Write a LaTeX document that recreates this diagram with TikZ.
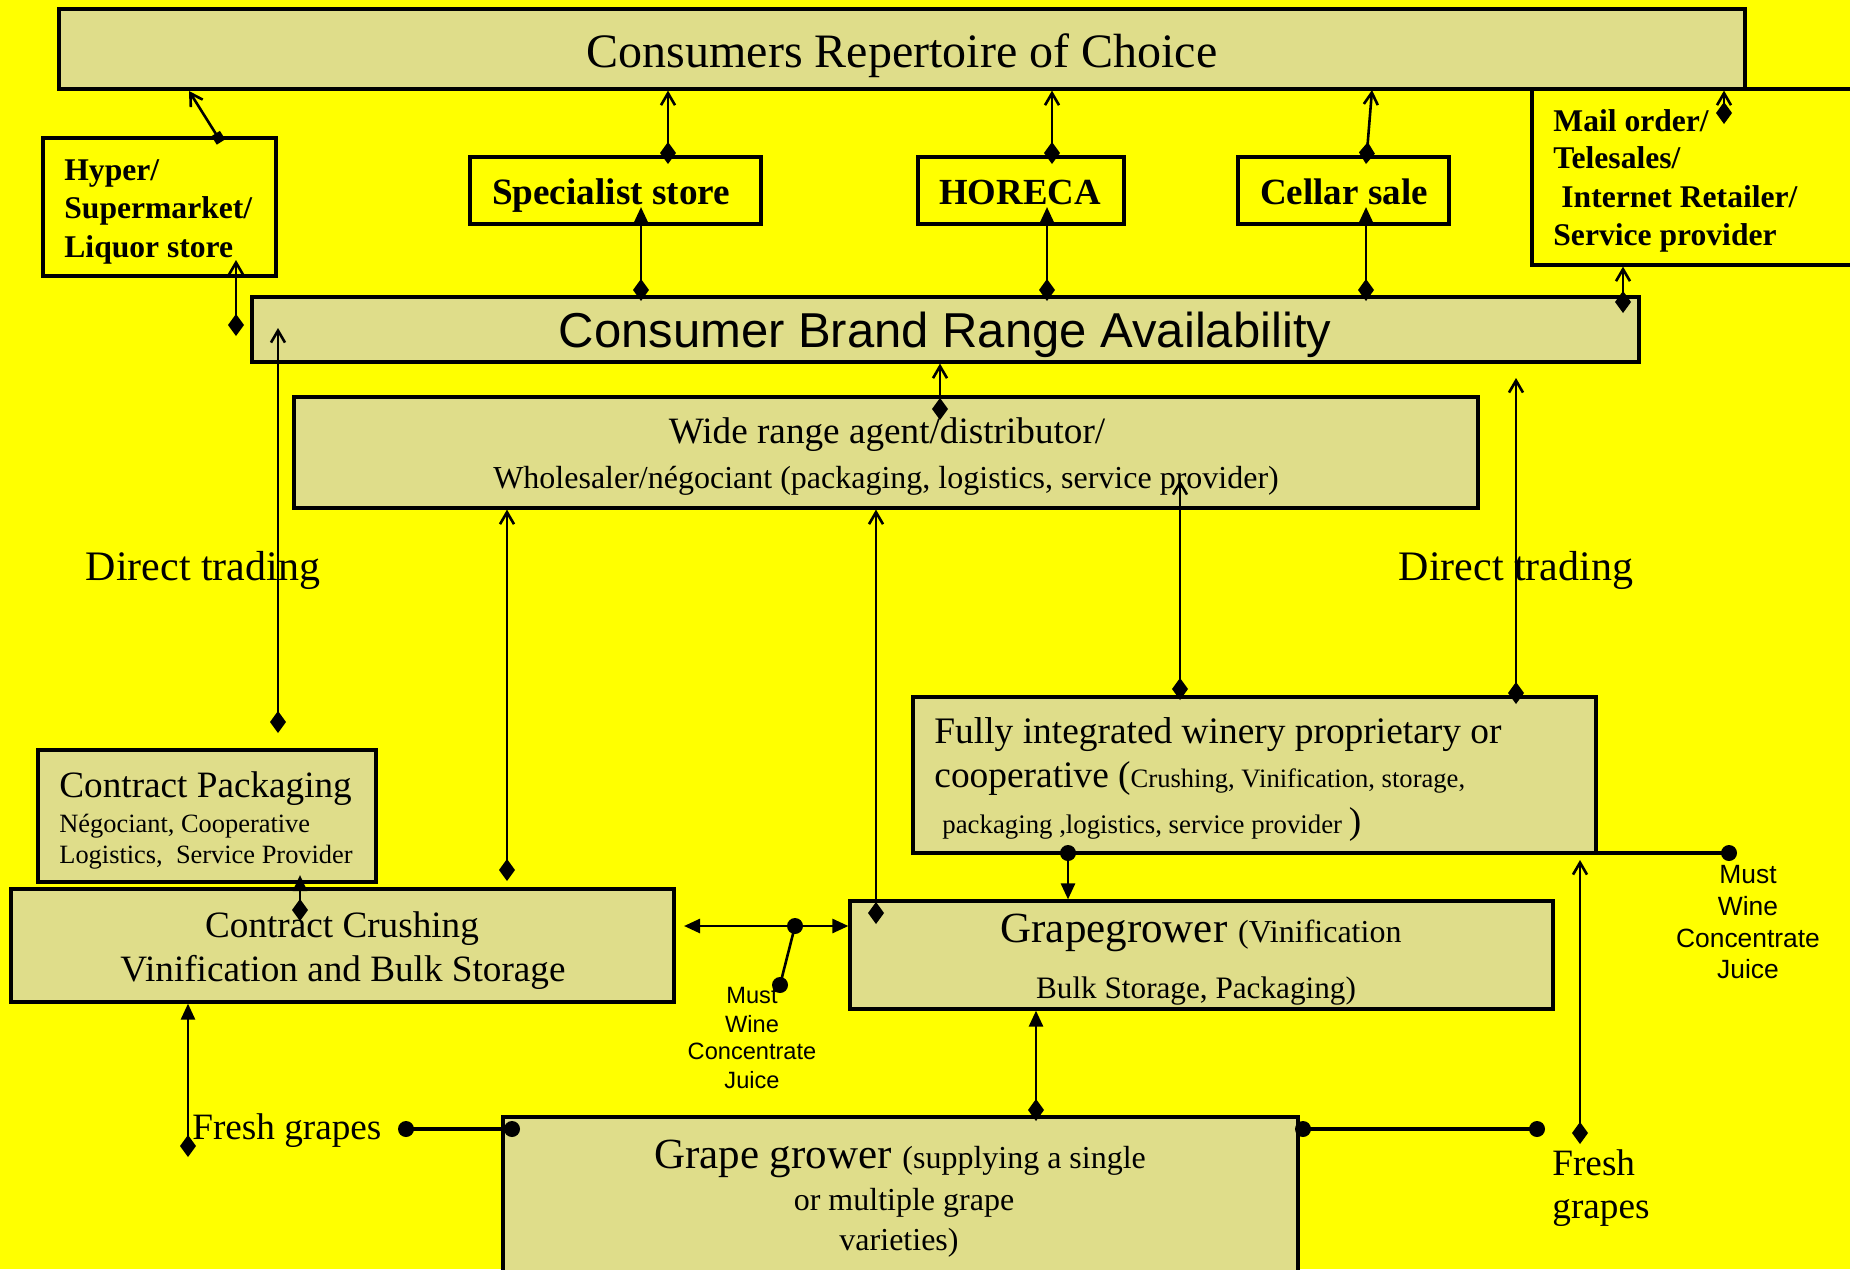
\documentclass[tikz,border=0pt]{standalone}
\usepackage{fontspec}
\setmainfont{Liberation Serif}
\newfontfamily\arialf{Liberation Sans}
\usetikzlibrary{arrows.meta,fit}
\definecolor{bgy}{RGB}{255,255,0}
\definecolor{texc}{RGB}{223,221,138}
\newcommand\fz[1]{\fontsize{#1}{#1}\selectfont}
\begin{document}
\begin{tikzpicture}[x=0.5pt,y=-0.5pt,
  conn/.style={line width=1.3pt},
  tbox/.style={draw, line width=1.6pt, inner sep=0pt, fill=texc},
  wbox/.style={draw, line width=1.6pt, inner sep=0pt, fill=bgy},
  lbl/.style={inner sep=0pt, anchor=base},
  lblw/.style={inner sep=0pt, anchor=base west},
  dbarb/.style={conn, {Diamond[length=11pt,width=8pt]}-{Straight Barb[length=6pt,width=7pt]}},
  dtri/.style={conn, {Diamond[length=11pt,width=8pt]}-{Triangle[length=8pt,width=7pt]}},
  tritri/.style={conn, {Triangle[length=8pt,width=7pt]}-{Triangle[length=8pt,width=7pt]}},
  dotline/.style={line width=1.6pt},
]
\useasboundingbox (0,0) rectangle (1850,1269);
\fill[bgy] (0,0) rectangle (1850,1269);

% ---------- boxes ----------
\node[tbox, fit={(59,9) (1745,89)}] (rep) {};
\node[wbox, fit={(43,138) (276,276)}] (hyper) {};
\node[wbox, fit={(470,157) (761,224)}] (spec) {};
\node[wbox, fit={(918,157) (1124,224)}] (horeca) {};
\node[wbox, fit={(1238,157) (1449,224)}] (cellar) {};
\node[wbox, fit={(1532,89) (1870,265)}] (mail) {};
\node[tbox, fit={(252,297) (1639,362)}] (brand) {};
\node[tbox, fit={(294,397) (1478,508)}] (wide) {};
\node[tbox, fit={(38,750) (376,882)}] (pack) {};
\node[tbox, fit={(11,889) (674,1002)}] (crush) {};
\node[tbox, fit={(913,697) (1596,853)}] (fully) {};
\node[tbox, fit={(850,901) (1553,1009)}] (gg) {};
\node[tbox, fit={(503,1117) (1298,1300)}] (grower) {};

% ---------- texts ----------
\node[lbl, font=\fz{24}] (reptxt) at (902,67) {Consumers Repertoire of Choice};
\node[lblw, font=\bfseries\fz{15.8}] (hy1) at (64,180) {Hyper/};
\node[lblw, font=\bfseries\fz{15.8}] (hy2) at (64,218) {Supermarket/};
\node[lblw, font=\bfseries\fz{15.8}] (hy3) at (64,257) {Liquor store};
\node[lbl, font=\bfseries\fz{18.6}] (spectxt) at (611,204) {Specialist store};
\node[lbl, font=\bfseries\fz{18.4}] (horecatxt) at (1020,204) {HORECA};
\node[lbl, font=\bfseries\fz{18.5}] (cellartxt) at (1344,204) {Cellar sale};
\node[lblw, font=\bfseries\fz{15.8}] (ma1) at (1553,131) {Mail order/};
\node[lblw, font=\bfseries\fz{15.8}] (ma2) at (1553,168) {Telesales/};
\node[lblw, font=\bfseries\fz{15.8}] (ma3) at (1561,207) {Internet Retailer/};
\node[lblw, font=\bfseries\fz{15.8}] (ma4) at (1553,245) {Service provider};
\node[lbl, font=\arialf\fz{24.5}] (brandtxt) at (945,347) {Consumer Brand Range Availability};
\node[lbl, font=\fz{18.6}] (wide1) at (887,443) {Wide range agent/distributor/};
\node[lbl, font=\fz{16}] (wide2) at (886,488) {Wholesaler/négociant (packaging, logistics, service provider)};
\node[lbl, font=\fz{21}] (dtl) at (203,580) {Direct trading};
\node[lbl, font=\fz{21}] (dtr) at (1516,580) {Direct trading};
\node[lblw, font=\fz{18.6}] (pa1) at (59,797) {Contract Packaging};
\node[lblw, font=\fz{13.2}] (pa2) at (59,832) {Négociant, Cooperative};
\node[lblw, font=\fz{13.2}] (pa3) at (59,863) {Logistics,\ \ Service Provider};
\node[lbl, font=\fz{18.6}] (cr1) at (342,937) {Contract Crushing};
\node[lbl, font=\fz{18.6}] (cr2) at (343,981) {Vinification and Bulk Storage};
\node[lblw] (fu1) at (934,743) {\fz{18.7}Fully integrated winery proprietary or};
\node[lblw] (fu2) at (934,787) {\fz{18.7}cooperative (\fz{13.3}Crushing, Vinification, storage,};
\node[lblw] (fu3) at (942,833) {\fz{13.4}packaging ,logistics, service provider \fz{18.7})};
\node[lbl] (gg1) at (1201,942) {\fz{21.5}Grapegrower \fz{16}(Vinification};
\node[lbl] (gg2) at (1196,998) {\fz{15.6}Bulk Storage, Packaging)};
\node[lbl] (gr1) at (900,1168) {\fz{21.5}Grape grower \fz{16}(supplying a single};
\node[lbl] (gr2) at (904,1210) {\fz{16}or multiple grape};
\node[lbl] (gr3) at (899,1250) {\fz{16}varieties)};
\node[lblw, font=\fz{18.6}] (fgl1) at (192,1139) {Fresh grapes};
\node[lblw, font=\fz{18.6}] (fgr1) at (1552,1175) {Fresh};
\node[lblw, font=\fz{18.6}] (fgr2) at (1552,1218) {grapes};
\node[lbl, font=\arialf\fz{11.8}] (ml1) at (752,1003) {Must};
\node[lbl, font=\arialf\fz{11.8}] (ml2) at (752,1032) {Wine};
\node[lbl, font=\arialf\fz{11.8}] (ml3) at (752,1059) {Concentrate};
\node[lbl, font=\arialf\fz{11.8}] (ml4) at (752,1088) {Juice};
\node[lbl, font=\arialf\fz{13.2}] (mr1) at (1748,883) {Must};
\node[lbl, font=\arialf\fz{13.2}] (mr2) at (1748,915) {Wine};
\node[lbl, font=\arialf\fz{13.2}] (mr3) at (1748,947) {Concentrate};
\node[lbl, font=\arialf\fz{13.2}] (mr4) at (1748,978) {Juice};

% ---------- connector end points ----------
\coordinate (d1) at (221,142);  \coordinate (t1) at (189,91);
\coordinate (d2) at (236,336);  \coordinate (t2) at (236,260);
\coordinate (d3) at (668,164);
\coordinate (d4) at (641,301);  \coordinate (t4) at (641,207);
\coordinate (d5) at (1052,164);
\coordinate (d6) at (1047,301); \coordinate (t6) at (1047,207);
\coordinate (d7) at (1366,164); \coordinate (t7) at (1372,90);
\coordinate (d8) at (1366,301); \coordinate (t8) at (1366,207);
\coordinate (d9) at (1724,124);
\coordinate (d10) at (1623,313);
\coordinate (d11) at (940,420);
\coordinate (d12) at (278,733); \coordinate (t12) at (278,328);
\coordinate (d13) at (507,881);
\coordinate (d14) at (876,924);
\coordinate (d15) at (1180,700); \coordinate (t15) at (1180,480);
\coordinate (d16) at (1516,704); \coordinate (t16) at (1516,378);
\coordinate (d17) at (300,921); \coordinate (t17) at (300,875);
\coordinate (hl) at (684,926);
\coordinate (mj) at (795,926);  \coordinate (mb) at (780,985);
\coordinate (fd) at (1068,853); \coordinate (fr) at (1729,853);
\coordinate (d20) at (1036,1121);
\coordinate (gr) at (1303,1129); \coordinate (fgr) at (1537,1129);
\coordinate (d22) at (1580,1144); \coordinate (t22) at (1580,860);
\coordinate (fgl) at (406,1129); \coordinate (gl) at (512,1129);
\coordinate (d24) at (188,1157);

% ---------- connectors ----------
\draw[conn, {Square[length=5pt,width=5pt]}-{Straight Barb[length=6pt,width=7pt]}] (d1) -- (t1);
\draw[dbarb] (d2) -- (t2);
\draw[dbarb] (d3) -- (d3 |- rep.south);
\draw[dtri] (d4) -- (t4);
\draw[dbarb] (d5) -- (d5 |- rep.south);
\draw[dtri] (d6) -- (t6);
\draw[dbarb] (d7) -- (t7);
\draw[dtri] (d8) -- (t8);
\draw[dbarb] (d9) -- (d9 |- rep.south);
\draw[dbarb] (d10) -- (d10 |- mail.south);
\draw[dbarb] (d11) -- (d11 |- brand.south);
\draw[dbarb] (d12) -- (t12);
\draw[dbarb] (d13) -- (d13 |- wide.south);
\draw[dbarb] (d14) -- (d14 |- wide.south);
\draw[dbarb] (d15) -- (t15);
\draw[dbarb] (d16) -- (t16);
\draw[dtri] (d17) -- (t17);
\draw[tritri] (hl) -- (hl -| gg.west);
\draw[conn] (mj) -- (mb);
\fill (mj) circle[radius=4pt];
\fill (mb) circle[radius=4pt];
\draw[dotline] (fd) -- (fr);
\draw[conn, -{Triangle[length=8pt,width=7pt]}] (fd) -- (fd |- gg.north);
\fill (fd) circle[radius=4pt];
\fill (fr) circle[radius=4pt];
\draw[dtri] (d20) -- (d20 |- gg.south);
\draw[dotline] (gr) -- (fgr);
\fill (gr) circle[radius=4pt];
\fill (fgr) circle[radius=4pt];
\draw[dbarb] (d22) -- (t22);
\draw[dotline] (fgl) -- (gl);
\fill (fgl) circle[radius=4pt];
\fill (gl) circle[radius=4pt];
\draw[dtri] (d24) -- (d24 |- crush.south);
\end{tikzpicture}
\end{document}
